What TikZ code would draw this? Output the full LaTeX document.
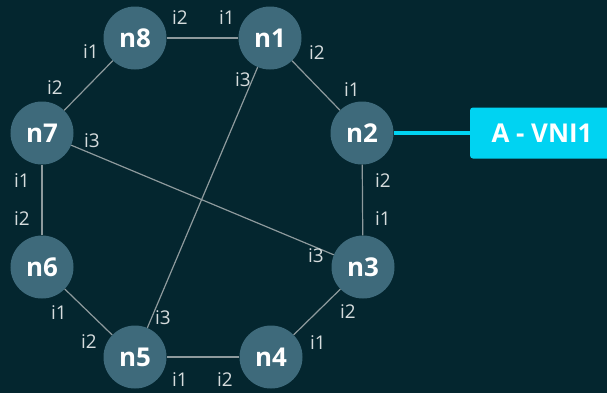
\documentclass[tikz,border=0pt]{standalone}
\usepackage{fontspec}
\setmainfont{Open Sans}
\definecolor{bgdark}{HTML}{04262F}
\definecolor{nodeteal}{HTML}{3E6A7B}
\definecolor{linkgray}{HTML}{8E9A9D}
\definecolor{portgray}{HTML}{D6DCDD}
\definecolor{vnicyan}{HTML}{00D3F2}
\tikzstyle{every node}=[inner sep=0pt]
\tikzstyle{router}=[circle,fill=nodeteal,minimum size=63bp,text=white,font=\fontsize{26}{26}\selectfont\bfseries]
\tikzstyle{port}=[text=portgray,font=\fontsize{19}{19}\selectfont]
\tikzstyle{link}=[draw=linkgray,line width=1.2bp]
\tikzstyle{vni}=[fill=vnicyan,rounded corners=3bp,text=white,minimum width=144bp,minimum height=51bp,font=\fontsize{26}{26}\selectfont\bfseries]
\newcommand{\prt}[3]{\node[port] (#1) at (#2) {#3};}

\begin{document}
\begin{tikzpicture}[x=1bp,y=-1bp]
  \useasboundingbox[fill=bgdark] (0,0) rectangle (607,393);
  % routers of the ring
  \node[router] (n1) at (270,38) {n1};
  \node[router] (n2) at (362,133) {n2};
  \node[router] (n3) at (363,267) {n3};
  \node[router] (n4) at (271,357) {n4};
  \node[router] (n5) at (135,357) {n5};
  \node[router] (n6) at (42,267) {n6};
  \node[router] (n7) at (42,133) {n7};
  \node[router] (n8) at (135,38) {n8};
  \node[vni] (vni1) at (542,133) {A - VNI1};
  % links
  \draw[link] (n8) -- (n1);
  \draw[link] (n1) -- (n2);
  \draw[link] (n2) -- (n3);
  \draw[link] (n3) -- (n4);
  \draw[link] (n4) -- (n5);
  \draw[link] (n5) -- (n6);
  \draw[link] (n6) -- (n7);
  \draw[link] (n7) -- (n8);
  \draw[link] (n1) -- (n5);
  \draw[link] (n7) -- (n3);
  \draw[vnicyan,line width=4bp] (n2) -- (vni1);
  % interface labels
  \prt{p8b}{180,18}{i2}
  \prt{p1a}{227,18}{i1}
  \prt{p1b}{317,53}{i2}
  \prt{p1c}{243,80}{i3}
  \prt{p2a}{352,90}{i1}
  \prt{p2b}{383,181}{i2}
  \prt{p3a}{383,219}{i1}
  \prt{p3c}{316,256}{i3}
  \prt{p3b}{348,312}{i2}
  \prt{p4a}{318,343}{i1}
  \prt{p4b}{225,380}{i2}
  \prt{p5a}{180,380}{i1}
  \prt{p5c}{163,318}{i3}
  \prt{p5b}{89,342}{i2}
  \prt{p6a}{59,313}{i1}
  \prt{p6b}{22,219}{i2}
  \prt{p7a}{22,181}{i1}
  \prt{p7c}{92,141}{i3}
  \prt{p7b}{55,88}{i2}
  \prt{p8a}{91,52}{i1}
\end{tikzpicture}
\end{document}
